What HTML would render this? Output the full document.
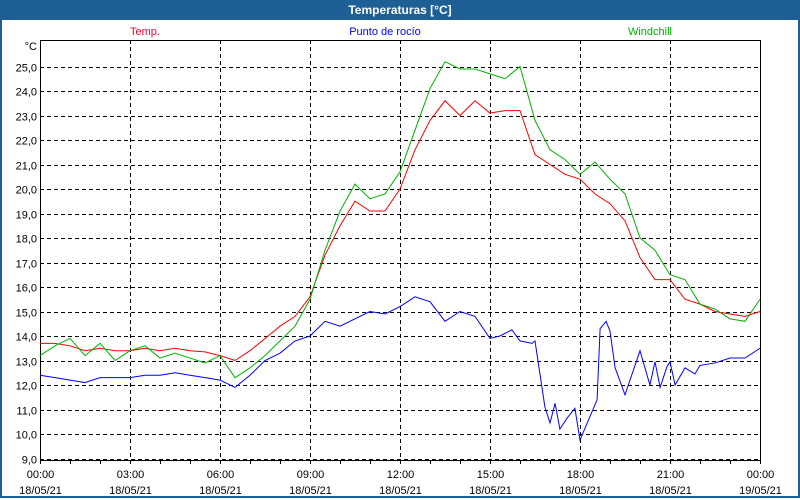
<!DOCTYPE html>
<html><head><meta charset="utf-8"><style>
body{margin:0;width:800px;height:500px;overflow:hidden;background:#fff;font-family:"Liberation Sans",sans-serif}
#wrap{position:absolute;left:0;top:0;width:796px;height:496px;border:2px solid #1e5f96;border-top:none}
#title{position:absolute;left:0;top:0;width:800px;height:20px;background:#1e5f96;color:#fff;font-weight:bold;font-size:12px;text-align:center;line-height:20px}
</style></head><body>
<div id="wrap"></div>
<div id="title">Temperaturas [°C]</div>
<svg id="c" width="800" height="500" style="position:absolute;left:0;top:0"></svg>
<script>
const hours=[];for(let i=0;i<=48;i++)hours.push(i/2);
const temp=[13.7,13.7,13.6,13.4,13.5,13.4,13.4,13.5,13.4,13.5,13.4,13.35,13.2,13.0,13.4,13.9,14.4,14.8,15.6,17.3,18.5,19.5,19.1,19.1,20.0,21.6,22.8,23.6,23.0,23.6,23.1,23.2,23.2,21.4,21.0,20.6,20.4,19.8,19.4,18.7,17.2,16.3,16.3,15.5,15.3,15.0,14.9,14.8,15.0];
const wind=[13.2,13.6,13.9,13.2,13.7,13.0,13.4,13.6,13.1,13.3,13.1,12.9,13.2,12.3,12.7,13.2,13.8,14.4,15.5,17.5,19.1,20.2,19.6,19.8,20.7,22.4,24.1,25.2,24.9,24.9,24.7,24.5,25.0,22.8,21.6,21.2,20.6,21.1,20.4,19.8,18.0,17.5,16.5,16.3,15.3,15.1,14.7,14.6,15.5];
const dewHours=[0,0.5,1,1.5,2,2.5,3,3.5,4,4.5,5,5.5,6,6.5,7,7.5,8,8.5,9,9.5,10,10.5,11,11.5,12,12.5,13,13.5,14,14.5,15,15.33,15.73,16,16.4,16.5,16.83,17,17.17,17.33,17.57,17.83,18,18.57,18.67,18.87,19,19.17,19.5,20,20.33,20.5,20.67,20.9,21,21.17,21.5,21.83,22,22.5,23,23.5,24];
const dew=[12.4,12.3,12.2,12.1,12.3,12.3,12.3,12.4,12.4,12.5,12.4,12.3,12.2,11.9,12.4,13.0,13.3,13.8,14.0,14.6,14.4,14.7,15.0,14.9,15.2,15.6,15.4,14.6,15.0,14.8,13.9,14.0,14.25,13.8,13.7,13.8,11.1,10.45,11.25,10.2,10.65,11.05,9.75,11.4,14.3,14.6,14.2,12.7,11.6,13.4,12.0,12.95,11.9,12.75,12.95,12.0,12.7,12.45,12.8,12.9,13.1,13.1,13.5];
const yTicks=[9,10,11,12,13,14,15,16,17,18,19,20,21,22,23,24,25];
const xTicks=[0,3,6,9,12,15,18,21,24];
const xLabels=["00:00","03:00","06:00","09:00","12:00","15:00","18:00","21:00","00:00"];
const dLabels=["18/05/21","18/05/21","18/05/21","18/05/21","18/05/21","18/05/21","18/05/21","18/05/21","19/05/21"];
const L=40,R=760,T=40,B=460;
const X=h=>L+(R-L)*h/24;
const Y=v=>66.5+(25-v)*24.5;
const s=document.getElementById('c');const NS='http://www.w3.org/2000/svg';
function el(t,a,p){const e=document.createElementNS(NS,t);for(const k in a)e.setAttribute(k,a[k]);(p||s).appendChild(e);return e;}
yTicks.forEach(v=>{
 const y=Math.round(Y(v))+0.5;
 const g=el('line',{x1:L,x2:R,y1:y,y2:y,stroke:'#000','stroke-dasharray':'4,3','stroke-width':1});
 
 
 const t=el('text',{x:37,y:y+4,'text-anchor':'end','font-size':11,fill:'#000'});t.textContent=v.toFixed(1).replace('.',',');
 
 
});
xTicks.forEach((h,i)=>{
 const x=Math.round(X(h))+0.5;
 if(i>0&&i<8){const g=el('line',{x1:x,x2:x,y1:T,y2:B,stroke:'#000','stroke-dasharray':'4,3'});
 
 }
 const t=el('text',{x:x,y:478,'text-anchor':'middle','font-size':11});t.textContent=xLabels[i];
 
 
 const d=el('text',{x:x,y:494,'text-anchor':'middle','font-size':11});d.textContent=dLabels[i];
 
 
});
for(let h=0;h<=24;h++){const x=Math.round(X(h))+0.5;el('line',{x1:x,x2:x,y1:B,y2:B+4,stroke:'#000'});}
const ax=el('rect',{x:L+0.5,y:T+0.5,width:R-L,height:B-T,fill:'none',stroke:'#000'});


const u=el('text',{x:37,y:50,'text-anchor':'end','font-size':11});u.textContent='°C';


function line(hs,arr,col,name){const p=el('polyline',{points:arr.map((v,i)=>X(hs[i])+','+Y(v)).join(' '),fill:'none',stroke:col,'stroke-width':1});
 
 }
line(dewHours,dew,'#0000ff','dewpoint-line');line(hours,temp,'#ff0000','temp-line');line(hours,wind,'#00b000','windchill-line');
[['Temp.','#ff0033',145,'legend-temp'],['Punto de rocío','#0000ff',385,'legend-dewpoint'],['Windchill','#00b000',650,'legend-windchill']].forEach(a=>{
 const t=el('text',{x:a[2],y:35,'text-anchor':'middle','font-size':11,fill:a[1]});t.textContent=a[0];
 
 
});
</script>
</body></html>
